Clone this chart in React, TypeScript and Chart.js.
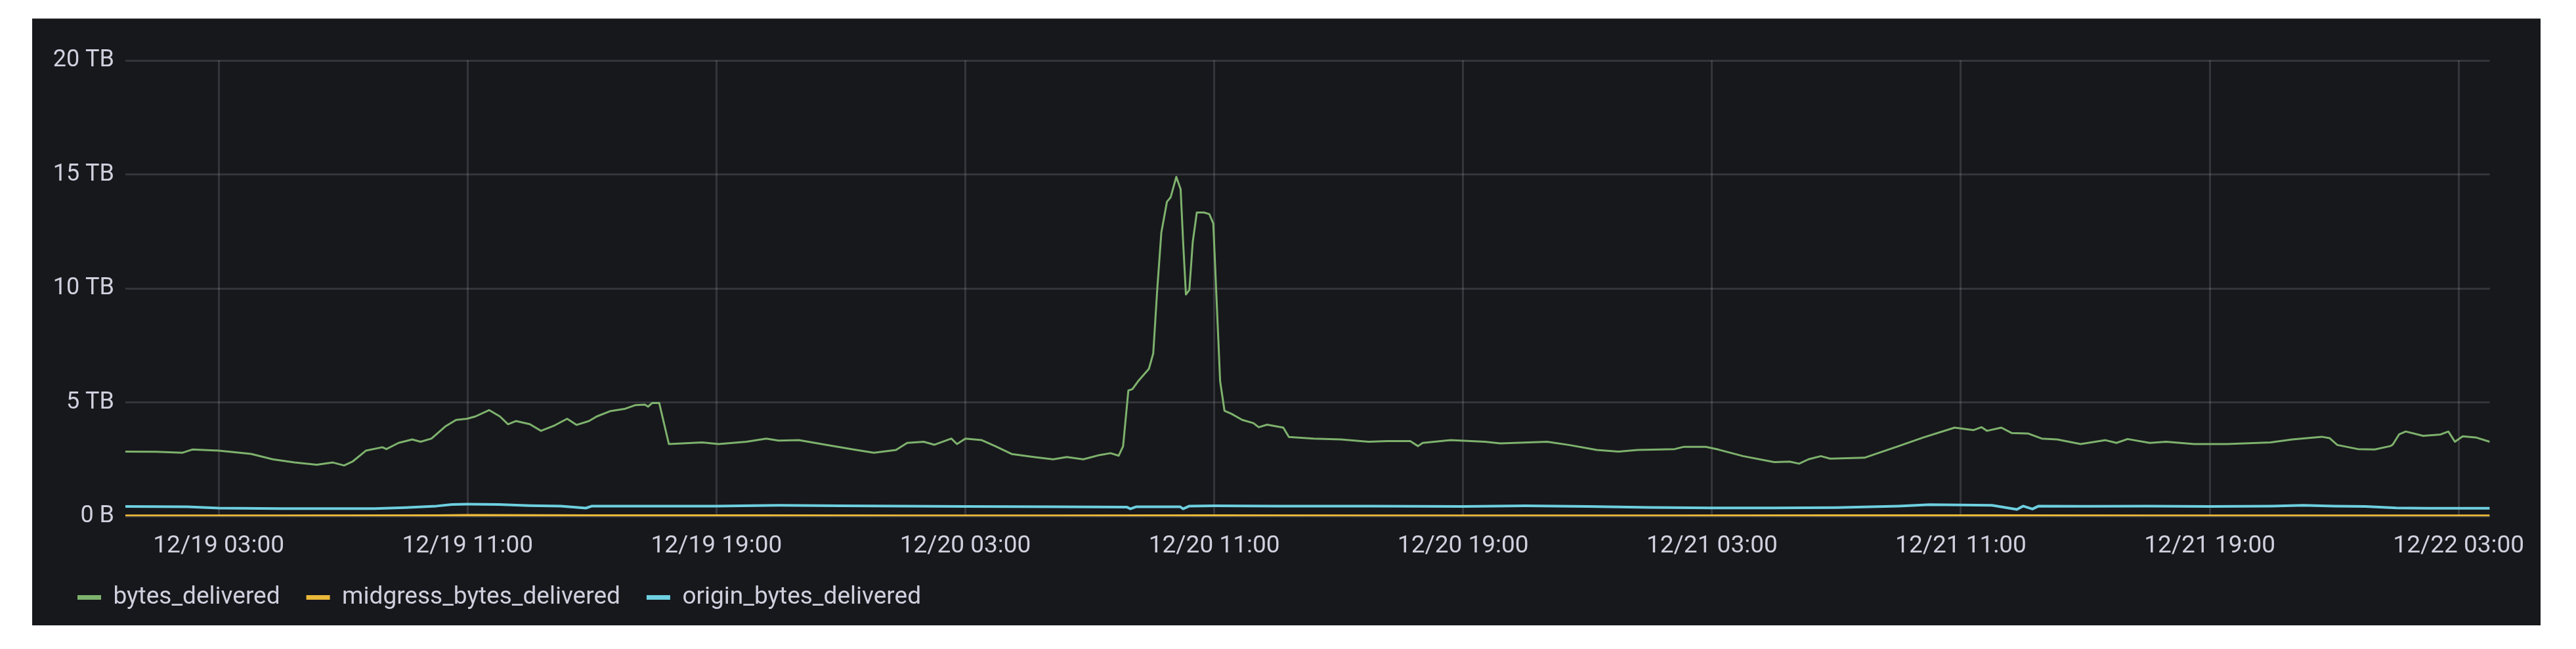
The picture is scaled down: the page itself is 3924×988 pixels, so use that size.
import React, { useEffect, useRef } from 'react';
import { Chart, registerables } from 'chart.js';

Chart.register(...registerables);

// Hours since 12/19 00:00, values in TB
const deliveredHours = [
  0, 1.0, 1.84, 2.15, 3, 4.04, 4.74, 5.44, 6.15, 6.67, 7.03, 7.3, 7.73, 8.26, 8.39, 8.78, 9.22, 9.49, 9.84,
  10.28, 10.63, 10.98, 11.25, 11.69, 12.04, 12.3, 12.56, 13.0, 13.36, 13.8, 14.2, 14.5, 14.9, 15.15, 15.6,
  16.04, 16.4, 16.7, 16.8, 16.93, 17.16, 17.47, 17.9, 18.54, 19.07, 19.96, 20.6, 21.0, 21.65, 22.5, 23.4,
  24.06, 24.77, 25.13, 25.66, 26.0, 26.55, 26.73, 27, 27.53, 27.97, 28.5, 29.2, 29.82, 30.26, 30.79, 31.32,
  31.67, 31.93, 32.07, 32.24, 32.37, 32.55, 32.9, 33.04, 33.17, 33.3, 33.48, 33.6, 33.78, 33.92, 34.0, 34.09,
  34.2, 34.31, 34.44, 34.67, 34.84, 34.97, 35.06, 35.19, 35.33, 35.55, 35.9, 36.26, 36.43, 36.7, 37.22, 37.4,
  38.2, 39.08, 39.96, 40.55, 41.3, 41.55, 41.7, 42.6, 43.7, 44.2, 45.7, 46.4, 47.3, 48.0, 48.6, 49.8, 50.1,
  50.8, 51.2, 52.0, 53.0, 53.5, 53.8, 54.1, 54.5, 54.8, 55.9, 57.0, 57.8, 58.8, 59.4, 59.66, 59.84, 60.3,
  60.64, 61.17, 61.6, 62.1, 62.85, 63.65, 64.0, 64.36, 65.07, 65.6, 66.5, 67, 67.55, 68.95, 69.65, 70.6,
  70.85, 71.1, 71.76, 72.3, 72.8, 72.88, 73.09, 73.3, 73.86, 74.42, 74.67, 74.88, 75.13, 75.55, 76.0,
];
const deliveredTB = [
  2.84, 2.83, 2.79, 2.93, 2.88, 2.74, 2.5, 2.36, 2.26, 2.36, 2.23, 2.4, 2.88, 3.03, 2.95, 3.22, 3.37, 3.27, 3.41,
  3.94, 4.23, 4.28, 4.38, 4.66, 4.38, 4.04, 4.18, 4.04, 3.75, 3.99, 4.28, 4.01, 4.18, 4.38, 4.62,
  4.71, 4.88, 4.9, 4.81, 4.97, 4.97, 3.17, 3.2, 3.24, 3.17, 3.27, 3.41, 3.32, 3.34, 3.14, 2.93,
  2.79, 2.91, 3.22, 3.27, 3.14, 3.41, 3.17, 3.41, 3.34, 3.07, 2.73, 2.6, 2.5, 2.6, 2.5, 2.69,
  2.77, 2.66, 3.07, 5.52, 5.58, 5.92, 6.47, 7.15, 10.0, 12.45, 13.8, 14.0, 14.89, 14.35, 12.04, 9.73,
  9.93, 12.04, 13.33, 13.33, 13.26, 12.85, 10.0, 5.92, 4.63, 4.5, 4.23, 4.09, 3.91, 4.02, 3.89, 3.48,
  3.41, 3.37, 3.27, 3.3, 3.3, 3.08, 3.22, 3.34, 3.27, 3.2, 3.27, 3.13, 2.91, 2.84, 2.91, 2.95, 3.05,
  3.05, 2.93, 2.64, 2.38, 2.4, 2.31, 2.5, 2.64, 2.53, 2.57, 3.08, 3.46, 3.89, 3.78, 3.91, 3.75, 3.89,
  3.65, 3.63, 3.41, 3.37, 3.17, 3.34, 3.22, 3.39, 3.22, 3.27, 3.17, 3.17, 3.17, 3.24, 3.37, 3.49,
  3.43, 3.13, 2.95, 2.93, 3.08, 3.14, 3.6, 3.72, 3.53, 3.59, 3.72, 3.27, 3.51, 3.46, 3.27,
];

const midgressHours = [0, 5, 10, 11, 15, 20, 25, 30, 35, 40, 45, 50, 55, 60, 65, 70, 76];
const midgressTB = [0.02, 0.02, 0.03, 0.04, 0.03, 0.03, 0.02, 0.02, 0.03, 0.02, 0.02, 0.02, 0.03, 0.03, 0.02, 0.02, 0.02];

const originHours = [
  0, 2, 3, 5, 8, 9, 10, 10.5, 11, 12, 13, 14, 14.8, 15, 17, 19, 21, 23, 25, 27, 30, 32.2, 32.3, 32.5,
  33.9, 34.0, 34.2, 35, 37, 40, 43, 45, 47, 49, 51, 53, 55, 57, 58, 59, 60, 60.8, 61, 61.3, 61.5, 63,
  65, 67, 69, 70, 71, 72, 73, 74, 76,
];
const originTB = [
  0.43, 0.42, 0.36, 0.34, 0.34, 0.38, 0.45, 0.52, 0.53, 0.52, 0.47, 0.45, 0.36, 0.45, 0.45, 0.45, 0.48, 0.46, 0.45, 0.43, 0.42, 0.4, 0.33, 0.42,
  0.42, 0.33, 0.45, 0.46, 0.45, 0.45, 0.43, 0.46, 0.43, 0.39, 0.37, 0.37, 0.38, 0.45, 0.51, 0.5, 0.48, 0.3, 0.45, 0.32, 0.45, 0.44,
  0.45, 0.43, 0.45, 0.48, 0.45, 0.43, 0.37, 0.35, 0.35,
];

const seriesNames = ['bytes_delivered', 'midgress_bytes_delivered', 'origin_bytes_delivered'];
const seriesColors = ['#7EB26D', '#EAB839', '#6ED0E0'];
const xTickHours = [3, 11, 19, 27, 35, 43, 51, 59, 67, 75];
const yTickTB = [0, 5, 10, 15, 20];
const startMonth = 12;
const startDay = 19;

const FONT = 'Roboto';
const TEXT = 'rgb(208,208,222)';
const GRID = 'rgba(204,204,220,0.16)';

function hourLabel(h: number): string {
  const d = startDay + Math.floor(h / 24);
  const hh = h % 24;
  return `${startMonth}/${d} ${String(hh).padStart(2, '0')}:00`;
}

function toPoints(xs: number[], ys: number[]) {
  return xs.map((x, i) => ({ x, y: ys[i] }));
}

const PANEL_LEFT = 49;
const PANEL_TOP = 28;
const PANEL_W = 3821;
const PANEL_H = 924;

export default function App() {
  const ref = useRef<HTMLCanvasElement | null>(null);

  useEffect(() => {
    if (!ref.current) return;
    const series = [
      toPoints(deliveredHours, deliveredTB),
      toPoints(midgressHours, midgressTB),
      toPoints(originHours, originTB),
    ];
    const chart = new Chart(ref.current, {
      type: 'line',
      data: {
        datasets: series.map((pts, i) => ({
          label: seriesNames[i],
          data: pts,
          borderColor: seriesColors[i],
          backgroundColor: seriesColors[i],
          borderWidth: i === 0 ? 3 : 4,
          pointRadius: 0,
          tension: 0,
          fill: false,
          borderJoinStyle: 'round' as const,
        })),
      },
      options: {
        animation: false,
        responsive: false,
        maintainAspectRatio: false,
        layout: { padding: { left: 29, right: 69, top: 63, bottom: 14 } },
        scales: {
          x: {
            type: 'linear',
            min: 0,
            max: 76,
            afterFit: (scale: any) => { scale.height = 65; },
            afterBuildTicks: (scale: any) => { scale.ticks = xTickHours.map((v) => ({ value: v })); },
            grid: { color: GRID, lineWidth: 3, drawTicks: false },
            border: { display: false },
            ticks: {
              autoSkip: false,
              maxRotation: 0,
              padding: 24,
              color: TEXT,
              font: { family: FONT, size: 37 },
              callback: (v: any) => hourLabel(Number(v)),
            },
          },
          y: {
            type: 'linear',
            min: 0,
            max: 20,
            afterFit: (scale: any) => { scale.width = 113; },
            afterBuildTicks: (scale: any) => { scale.ticks = yTickTB.map((v) => ({ value: v })); },
            grid: { color: GRID, lineWidth: 3, drawTicks: false },
            border: { display: false },
            ticks: {
              padding: 17,
              color: TEXT,
              font: { family: FONT, size: 36 },
              callback: (v: any) => (Number(v) === 0 ? '0 B' : `${v} TB`),
            },
          },
        },
        plugins: {
          tooltip: { enabled: false },
          legend: {
            display: true,
            position: 'bottom',
            align: 'start',
            labels: {
              color: TEXT,
              font: { family: FONT, size: 37 },
              boxWidth: 36,
              boxHeight: 7,
              padding: 40,
              generateLabels: (c: any) =>
                (Chart.defaults.plugins.legend.labels.generateLabels as any)(c).map((l: any, i: number) => ({
                  ...l,
                  fillStyle: seriesColors[i],
                  strokeStyle: 'rgba(0,0,0,0)',
                  lineWidth: 0,
                })),
            },
          },
        },
      } as any,
    });
    return () => chart.destroy();
  }, []);

  return (
    <div
      style={{
        position: 'absolute',
        left: PANEL_LEFT,
        top: PANEL_TOP,
        width: PANEL_W,
        height: PANEL_H,
        background: '#17181c',
        borderTop: '1px solid #55565a',
        boxSizing: 'border-box',
      }}
    >
      <canvas
        ref={ref}
        width={PANEL_W}
        height={PANEL_H - 1}
        style={{ display: 'block', width: PANEL_W, height: PANEL_H - 1 }}
      />
    </div>
  );
}
